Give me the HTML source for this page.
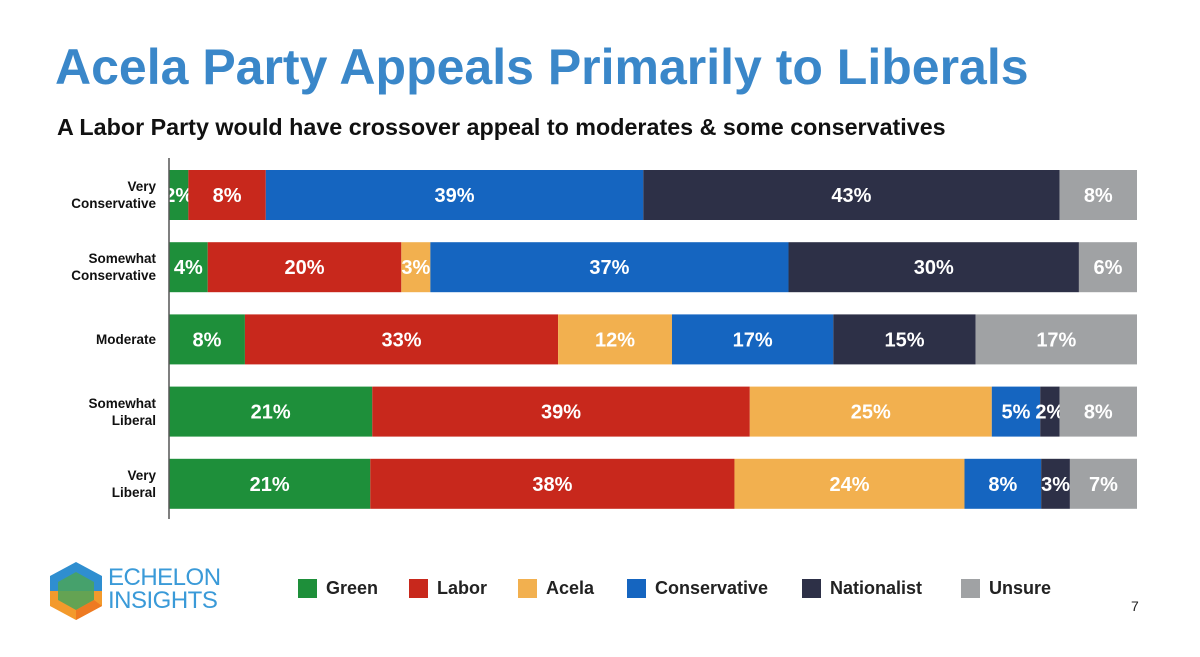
<!DOCTYPE html>
<html><head><meta charset="utf-8">
<style>
body{margin:0;width:1200px;height:657px;background:#fff;font-family:"Liberation Sans",sans-serif;overflow:hidden;position:relative}
.title{position:absolute;left:55px;top:38px;font-size:50px;font-weight:bold;color:#3a87c9;letter-spacing:0px}
.sub{position:absolute;left:57px;top:114px;font-size:23.3px;font-weight:bold;color:#111}
.rl{position:absolute;width:150px;left:6px;text-align:right;font-size:13.5px;font-weight:bold;color:#111;line-height:17px}
.lg{position:absolute;top:578px;font-size:18px;font-weight:bold;color:#222}
.lg span{position:absolute;left:-28px;top:1px;width:19px;height:19px}
</style></head><body>
<div class="title">Acela Party Appeals Primarily to Liberals</div>
<div class="sub">A Labor Party would have crossover appeal to moderates &amp; some conservatives</div>
<svg id="chart" width="1200" height="657" style="position:absolute;left:0;top:0"></svg>
<div id="labels"></div>
<div class="lg" style="left:326px"><span style="background:#1e8f3a"></span>Green</div>
<div class="lg" style="left:437px"><span style="background:#c8281c"></span>Labor</div>
<div class="lg" style="left:546px"><span style="background:#f2b04f"></span>Acela</div>
<div class="lg" style="left:655px"><span style="background:#1565c0"></span>Conservative</div>
<div class="lg" style="left:830px"><span style="background:#2d3047"></span>Nationalist</div>
<div class="lg" style="left:989px"><span style="background:#a0a2a4"></span>Unsure</div>
<div style="position:absolute;left:1131px;top:598px;font-size:14px;color:#222">7</div>
<div style="position:absolute;left:50px;top:562px">
<svg width="52" height="58" viewBox="0 0 52 58">
<polygon points="26,0 52,14 52,29 0,29 0,14" fill="#2f8ed0"/>
<polygon points="0,29 52,29 52,44 26,58 0,44" fill="#f39a2c"/>
<polygon points="26,10 44,20 44,38 26,48 8,38 8,20" fill="#4aa45a" opacity="0.85"/>
<polygon points="26,48 44,38 52,44 26,58" fill="#ee7a22"/>
</svg>
<div style="position:absolute;left:58px;top:4px;font-size:24px;color:#3a9ad8;line-height:23px;letter-spacing:-0.5px;font-weight:normal">ECHELON<br>INSIGHTS</div>
</div>
<script>
const categories=["Very Conservative","Somewhat Conservative","Moderate","Somewhat Liberal","Very Liberal"];
const catLines=[["Very","Conservative"],["Somewhat","Conservative"],["Moderate"],["Somewhat","Liberal"],["Very","Liberal"]];
const seriesNames=["Green","Labor","Acela","Conservative","Nationalist","Unsure"];
const green=[2,4,8,21,21];
const labor=[8,20,33,39,38];
const acela=[0,3,12,25,24];
const conservative=[39,37,17,5,8];
const nationalist=[43,30,15,2,3];
const unsure=[8,6,17,8,7];
const colors=["#1e8f3a","#c8281c","#f2b04f","#1565c0","#2d3047","#a0a2a4"];
const series=[green,labor,acela,conservative,nationalist,unsure];
const svg=document.getElementById('chart');
const NS="http://www.w3.org/2000/svg";
const x0=169,W=968,top0=170,step=72.2,bh=50;
function yPos(i){return top0+i*step;}
function xScale(v,sum){return v/sum*W;}
const ax=document.createElementNS(NS,'line');
ax.setAttribute('x1',x0);ax.setAttribute('x2',x0);ax.setAttribute('y1',158);ax.setAttribute('y2',519);
ax.setAttribute('stroke','#555');ax.setAttribute('stroke-width','1.5');


categories.forEach((c,i)=>{
  let sum=0;series.forEach(s=>sum+=s[i]);
  let x=x0;const y=yPos(i);
  series.forEach((s,j)=>{
    const v=s[i];if(!v)return;
    const w=xScale(v,sum);
    const r=document.createElementNS(NS,'rect');
    r.setAttribute('x',x);r.setAttribute('y',y);r.setAttribute('width',w);r.setAttribute('height',bh);r.setAttribute('fill',colors[j]);
    
    
    svg.appendChild(r);
    const t=document.createElementNS(NS,'text');
    t.setAttribute('x',x+w/2);t.setAttribute('y',y+bh/2+7);t.setAttribute('text-anchor','middle');
    t.setAttribute('fill','#fff');t.setAttribute('font-size','20');t.setAttribute('font-weight','bold');
    t.setAttribute('font-family','Liberation Sans, sans-serif');
    t.textContent=v+'%';
    
    
    svg.appendChild(t);
    x+=w;
  });
  const d=document.createElement('div');d.className='rl';
  const lines=catLines[i];
  d.style.top=(y+bh/2-lines.length*17/2)+'px';
  d.innerHTML=lines.join('<br>');
  
  
  document.getElementById('labels').appendChild(d);
});
svg.appendChild(ax);
</script>
</body></html>
